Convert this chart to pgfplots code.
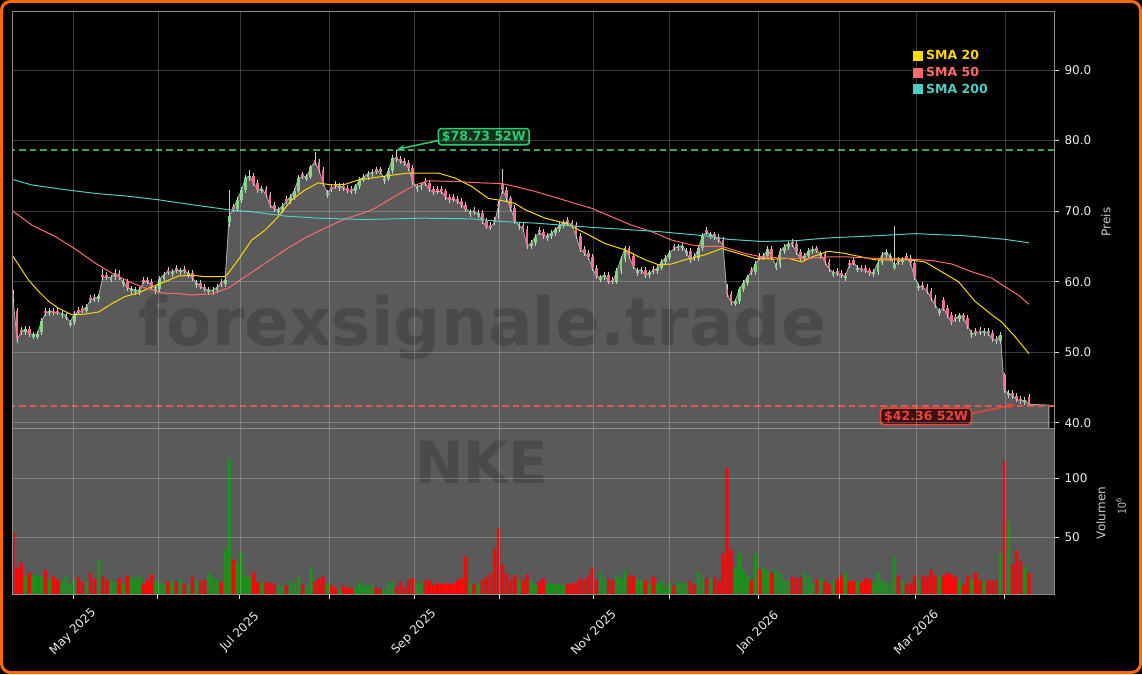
\documentclass[border=0pt]{standalone}
\usepackage{fontspec}
\setmainfont{DejaVu Sans}
\usepackage{pgfplots}
\pgfplotsset{compat=1.18}
\usepackage{pgfplotstable}
\usetikzlibrary{arrows.meta}
\definecolor{bgorange}{HTML}{FF6A00}
\definecolor{fillgray}{HTML}{5A5A5A}
\definecolor{closeline}{HTML}{A8A8A8}
\definecolor{sma20}{HTML}{FFD700}
\definecolor{sma50}{HTML}{FF6B6B}
\definecolor{sma200}{HTML}{4ECDC4}
\definecolor{upc}{HTML}{86D486}
\definecolor{downc}{HTML}{F2708F}
\definecolor{wickc}{HTML}{CFCFCF}
\definecolor{volg}{HTML}{1F8F1F}
\definecolor{volr}{HTML}{F00A0A}
\definecolor{wkhighline}{RGB}{60,160,95}
\definecolor{wklowline}{RGB}{224,85,85}
\definecolor{hitext}{HTML}{2ECC71}
\definecolor{lotext}{HTML}{E8453C}
\definecolor{hibox}{HTML}{10301C}
\definecolor{lobox}{HTML}{3A1010}
\definecolor{spine}{HTML}{8C8C8C}

\pgfplotstableread{
i o h l c v d
0 58.3 58.8 57.0 57.5 55 0
1 55.8 56.2 51.3 51.8 24 0
2 53.1 53.5 52.4 52.8 28.7 0
3 52.8 53.7 52.4 53.3 16.8 1
4 53.3 53.7 52.2 52.6 20.2 0
5 52.2 52.9 51.8 52.5 18.8 1
6 52.2 53.0 51.8 52.6 17.9 1
7 52.8 54.8 52.4 54.4 17.0 1
8 55.8 56.3 55.1 55.5 22.5 0
9 55.5 56.3 55.1 55.9 14.3 1
10 55.9 56.3 55.2 55.6 17.0 0
11 55.9 56.3 55.2 55.6 14.0 0
12 55.2 55.9 54.8 55.5 13.0 1
13 54.9 55.6 54.5 55.2 17.0 1
14 53.9 54.6 53.5 54.2 11.0 1
15 54.3 55.8 53.9 55.4 14.0 1
16 56.0 56.4 55.3 55.7 16.6 0
17 56.2 56.6 55.5 55.9 12.3 0
18 55.9 56.8 55.5 56.4 12.0 1
19 57.7 58.1 57.0 57.4 20.3 0
20 57.8 58.2 57.1 57.5 15.4 0
21 57.5 58.3 57.1 57.9 30.4 1
22 61.0 61.8 60.3 60.7 17.0 0
23 60.9 61.3 60.2 60.6 14.0 0
24 60.3 61.0 59.9 60.6 13.7 1
25 60.6 61.8 60.2 61.2 12.3 1
26 61.2 61.6 60.3 60.7 15.4 0
27 59.7 60.4 59.3 60.0 11.0 1
28 60.0 60.4 58.7 59.1 17.9 0
29 58.7 59.4 58.3 59.0 16.7 1
30 58.5 59.2 58.1 58.8 15.4 1
31 58.5 59.2 58.1 58.8 16.7 1
32 60.3 60.7 59.6 60.0 10.5 0
33 60.3 60.7 59.6 60.0 13.7 0
34 60.0 60.4 59.0 59.4 18.8 0
35 58.7 59.4 58.3 59.0 14.3 1
36 59.0 60.8 58.6 60.4 11.0 1
37 60.4 61.4 60.0 61.0 10.5 1
38 61.7 62.1 61.0 61.4 13.0 0
39 61.1 61.8 60.7 61.4 13.0 1
40 61.9 62.3 61.2 61.6 12.3 0
41 61.3 62.0 60.9 61.6 15.4 1
42 61.8 62.2 61.1 61.5 10.5 0
43 60.9 61.6 60.5 61.2 9.7 1
44 61.2 61.6 60.1 60.5 17.0 0
45 59.5 60.2 59.1 59.8 13.7 1
46 59.8 60.2 58.9 59.3 13.7 0
47 59.3 59.7 58.5 58.9 14.3 0
48 58.5 59.2 58.1 58.8 20.3 1
49 58.5 59.2 58.1 58.8 17.0 1
50 58.8 59.6 58.4 59.2 14.0 1
51 60.0 60.4 59.3 59.7 12.3 0
52 59.7 60.7 59.3 60.3 40.0 1
53 68.5 73.0 67.8 69.3 117 1
54 70.6 71.0 69.9 70.3 31.5 0
55 70.3 72.0 69.9 71.6 28.0 1
56 71.6 73.4 71.2 73.0 37.5 1
57 73.0 75.1 72.6 74.7 17.0 1
58 74.7 75.8 74.3 75.0 16.7 1
59 75.0 75.4 73.6 74.0 20.3 0
60 74.0 74.4 72.6 73.0 12.3 0
61 72.9 73.6 72.5 73.2 11.0 1
62 73.2 73.6 71.9 72.3 12.3 0
63 72.3 72.7 70.5 70.9 11.5 0
64 70.9 71.3 69.9 70.3 11.0 0
65 69.9 70.6 69.5 70.2 9.7 1
66 70.2 71.1 69.8 70.7 9.7 1
67 71.7 72.1 71.0 71.4 9.7 0
68 71.4 72.4 71.0 72.0 12.3 1
69 72.0 73.3 71.6 72.9 11.5 1
70 72.9 75.1 72.5 74.7 16.2 1
71 75.2 75.6 74.5 74.9 10.5 0
72 74.6 75.3 74.2 74.9 8.9 1
73 74.9 76.6 74.5 76.2 24.0 1
74 77.3 78.4 76.6 77.0 13.0 0
75 77.0 77.4 75.4 75.8 15.4 0
76 75.8 76.2 73.6 74.0 17.0 0
77 72.3 73.0 71.9 72.6 11.5 1
78 73.4 73.8 72.7 73.1 9.7 0
79 73.8 74.2 73.1 73.5 6.8 0
80 73.3 74.0 72.9 73.6 5.5 1
81 73.6 74.0 72.9 73.3 8.9 0
82 73.3 73.7 72.5 72.9 6.8 0
83 73.1 73.5 72.4 72.8 6.8 0
84 72.8 73.9 72.4 73.5 6.8 1
85 73.5 74.9 73.1 74.5 13.0 1
86 74.5 75.2 74.1 74.8 8.9 1
87 74.8 75.7 74.4 75.3 9.7 1
88 75.2 75.9 74.8 75.5 9.7 1
89 75.9 76.3 75.2 75.6 7.8 0
90 75.9 76.3 75.2 75.6 6.8 0
91 74.3 75.0 73.9 74.6 5.9 1
92 74.6 76.1 74.2 75.7 11.5 1
93 75.7 77.9 75.3 77.5 12.3 1
94 77.7 78.73 77.0 77.4 8.1 0
95 77.4 77.8 76.7 77.1 12.3 0
96 77.1 77.5 76.4 76.8 8.1 0
97 76.8 77.2 75.7 76.1 14.3 0
98 76.1 76.5 73.7 74.1 15.4 0
99 73.1 73.8 72.7 73.4 11.0 1
100 73.4 74.1 73.0 73.7 11.5 1
101 74.3 74.7 73.6 74.0 13.7 0
102 74.0 74.4 72.7 73.1 13.7 0
103 73.1 73.5 72.3 72.7 9.7 0
104 73.1 73.5 72.4 72.8 11.5 0
105 73.1 73.5 72.4 72.8 10.5 0
106 72.8 73.2 71.6 72.0 11.5 0
107 72.0 72.4 71.2 71.6 10.5 0
108 72.0 72.4 71.3 71.7 11.0 0
109 71.7 72.1 71.0 71.4 13.7 0
110 71.4 71.8 70.5 70.9 15.4 0
111 70.9 71.3 69.9 70.3 33.7 0
112 69.6 70.3 69.2 69.9 12.3 1
113 70.2 70.6 69.5 69.9 10.5 0
114 69.4 70.1 69.0 69.7 11.0 1
115 69.7 70.1 68.2 68.6 13.7 0
116 68.6 69.0 67.4 67.8 16.6 0
117 68.0 68.4 67.3 67.7 18.8 0
118 68.7 69.1 68.0 68.4 40.8 0
119 71.0 71.5 68.9 70.7 57.8 0
120 73.9 75.9 72.4 73.0 26.7 0
121 73.0 73.4 71.4 71.8 18.8 0
122 71.8 72.2 70.0 70.4 14.3 0
123 70.4 70.8 68.2 68.6 17.9 0
124 67.7 68.4 67.3 68.0 13.7 1
125 68.0 68.4 67.1 67.5 13.7 0
126 67.5 67.9 64.6 65.0 18.8 0
127 65.0 65.9 64.6 65.5 13.7 1
128 65.5 66.7 65.1 66.3 9.7 1
129 67.3 67.7 66.6 67.0 12.3 0
130 67.0 67.4 66.1 66.5 15.4 0
131 66.2 66.9 65.8 66.5 10.5 1
132 66.5 67.3 66.1 66.9 10.5 1
133 66.9 67.8 66.5 67.4 10.5 1
134 67.4 68.4 67.0 68.0 9.7 1
135 68.0 68.8 67.6 68.4 9.2 1
136 68.7 69.1 68.0 68.4 10.5 0
137 68.4 68.8 67.6 68.0 11.0 0
138 68.0 68.4 66.1 66.5 11.5 0
139 66.5 66.9 64.2 64.6 15.4 0
140 64.6 65.0 63.7 64.1 14.3 0
141 64.1 64.5 63.1 63.5 17.9 0
142 63.5 63.9 61.5 61.9 24.0 0
143 61.9 62.3 60.4 60.8 14.3 0
144 60.3 61.0 59.9 60.6 21.1 1
145 60.6 61.3 60.2 60.9 16.2 1
146 60.9 61.3 59.6 60.0 15.4 0
147 60.3 60.7 59.6 60.0 14.3 0
148 60.0 61.9 59.6 61.5 17.9 1
149 61.5 63.6 61.1 63.2 15.4 1
150 63.2 65.1 62.8 64.7 22.5 1
151 64.7 65.1 63.2 63.6 17.9 0
152 63.6 64.0 61.8 62.2 17.0 0
153 61.2 61.9 60.8 61.5 14.3 1
154 61.5 62.1 61.1 61.7 13.0 1
155 61.7 62.1 60.5 60.9 13.7 0
156 60.9 61.7 60.5 61.3 10.5 1
157 61.8 62.2 61.1 61.5 16.6 0
158 61.5 62.4 61.1 62.0 10.5 1
159 62.0 63.2 61.6 62.8 13.7 1
160 62.8 63.8 62.4 63.4 5.9 1
161 63.4 64.5 63.0 64.1 11.5 1
162 65.0 65.4 64.3 64.7 9.7 0
163 64.7 65.4 64.3 65.0 12.3 1
164 64.8 65.5 64.4 65.1 11.5 1
165 64.0 64.7 63.6 64.3 11.5 1
166 64.3 64.7 62.6 63.0 13.0 0
167 63.6 64.0 62.9 63.3 10.5 0
168 63.3 65.2 62.9 64.8 21.1 1
169 64.8 66.9 64.4 66.5 16.6 1
170 67.3 67.7 66.6 67.0 15.4 0
171 66.4 67.1 66.0 66.7 15.4 1
172 66.7 67.1 65.9 66.3 16.6 0
173 66.3 66.7 65.5 65.9 13.7 0
174 65.9 66.3 64.8 65.2 36.6 0
175 59.0 59.6 57.8 58.3 108.6 0
176 58.3 58.7 56.7 57.1 39.4 0
177 56.9 57.6 56.5 57.2 24.0 1
178 57.2 59.3 56.8 58.9 36.6 1
179 58.9 60.2 58.5 59.8 22.5 1
180 59.8 61.0 59.4 60.6 17.9 1
181 61.7 62.1 61.0 61.4 13.7 0
182 61.4 62.9 61.0 62.5 36.0 1
183 63.7 64.1 63.0 63.4 22.5 0
184 63.4 64.1 63.0 63.7 24.0 1
185 63.7 65.0 63.3 64.6 21.1 1
186 64.6 65.0 63.1 63.5 19.7 0
187 62.0 62.7 61.6 62.3 22.5 1
188 62.3 64.7 61.9 64.3 19.7 1
189 64.3 65.3 63.9 64.9 14.3 1
190 64.9 65.8 64.5 65.4 14.3 1
191 65.6 66.0 64.9 65.3 16.6 0
192 65.3 65.7 63.8 64.2 15.4 0
193 64.2 64.6 62.9 63.3 16.6 0
194 63.3 64.1 62.9 63.7 20.3 1
195 63.7 64.7 63.3 64.3 17.0 1
196 64.3 65.0 63.9 64.6 11.5 1
197 64.7 65.1 64.0 64.4 14.3 0
198 63.6 64.3 63.2 63.9 15.4 1
199 63.9 64.3 62.4 62.8 13.0 0
200 62.8 63.2 61.4 61.8 11.0 0
201 61.0 61.7 60.6 61.3 13.0 1
202 61.5 61.9 60.8 61.2 14.3 0
203 61.2 61.6 60.5 60.9 17.9 0
204 60.5 61.2 60.1 60.8 21.1 1
205 62.6 63.0 61.9 62.3 13.0 0
206 63.0 63.4 62.3 62.7 13.0 0
207 61.7 62.4 61.3 62.0 13.0 1
208 62.0 62.4 61.3 61.7 12.3 0
209 61.9 62.3 61.2 61.6 15.4 0
210 61.6 62.0 60.8 61.2 14.3 0
211 61.1 61.8 60.7 61.4 12.3 1
212 61.4 63.1 61.0 62.7 21.1 1
213 62.7 64.2 62.3 63.8 14.3 1
214 63.8 64.6 63.4 64.2 11.5 1
215 63.3 64.0 62.9 63.6 11.5 1
216 62.0 67.9 61.6 62.3 33.2 1
217 63.1 63.5 62.4 62.8 17.9 0
218 62.8 63.5 62.4 63.1 14.3 1
219 63.7 64.1 63.0 63.4 10.5 0
220 63.4 63.8 62.2 62.6 11.5 0
221 62.6 63.0 60.2 60.6 17.9 0
222 59.1 59.8 58.7 59.4 15.4 1
223 59.5 59.9 58.8 59.2 17.9 0
224 59.2 59.6 58.3 58.7 16.6 0
225 58.7 59.1 57.3 57.7 22.5 0
226 57.7 58.1 56.3 56.7 17.9 0
227 55.5 56.2 55.1 55.8 16.6 1
228 57.4 57.8 55.9 56.3 17.9 0
229 56.3 56.7 54.9 55.3 20.3 0
230 55.3 55.7 53.9 54.3 18.8 0
231 55.0 55.4 54.3 54.7 16.6 0
232 54.7 55.6 54.3 55.2 13.0 1
233 55.2 55.6 54.4 54.8 9.7 0
234 54.8 55.2 53.3 53.7 17.0 0
235 52.4 53.1 52.0 52.7 14.3 1
236 53.0 53.4 52.3 52.7 19.7 0
237 53.1 53.5 52.4 52.8 14.3 0
238 52.7 53.4 52.3 53.0 13.0 1
239 53.0 53.4 52.3 52.7 13.7 0
240 52.7 53.1 51.5 51.9 13.7 0
241 51.9 52.3 51.2 51.6 14.3 0
242 51.6 52.9 51.2 52.5 36.6 1
243 46.7 47.0 44.2 44.6 115 0
244 43.9 44.6 43.5 44.2 64.2 1
245 44.2 44.6 43.4 43.8 27.5 0
246 43.8 44.2 42.9 43.3 38.8 0
247 43.4 43.8 42.7 43.1 30.0 0
248 42.9 43.6 42.5 43.2 25.0 1
249 43.6 44.0 42.36 42.6 20.3 0
}\pricedata

\begin{document}
\begin{tikzpicture}[x=1pt,y=1pt]
\fill[black] (0,0) rectangle (1142,674);
\draw[bgorange, line width=3pt, rounded corners=9pt] (1.5,1.5) rectangle (1140.5,672.5);

% ---------------- price panel ----------------
\begin{axis}[
  at={(12pt,246pt)}, anchor=south west, scale only axis,
  width=1042pt, height=417pt,
  xmin=-0.245, xmax=255.15, ymin=39.25, ymax=98.37,
  axis on top,
  axis line style={draw=spine, line width=0.8pt},
  xtick={14.7,35.5,55.6,77.5,98.3,119.1,142.2,160.8,182.6,202.5,221.3,243.1},
  xticklabels={},
  x tick style={draw=none},
  ytick={40,50,60,70,80,90},
  ytick pos=right, yticklabel pos=right,
  tick align=outside, major tick length=5pt,
  y tick style={draw=white!85!black, line width=0.8pt},
  grid=major,
  grid style={draw=white, opacity=0.22, line width=0.6pt},
  /pgf/number format/assume math mode=true,
  yticklabel style={font=\fontsize{12}{14}\selectfont, text=white!92!black, xshift=2pt,
    /pgf/number format/.cd, fixed, fixed zerofill, precision=1},
  legend style={at={(0.8647,0.914)}, anchor=north west, draw=none, fill=none,
    inner sep=0pt, row sep=0pt, font=\fontsize{12.5}{14}\selectfont\bfseries,
    nodes={inner xsep=3pt, inner ysep=3.1pt}},
  legend cell align=left,
  legend image code/.code={\fill[#1] (0pt,-4.5pt) rectangle (9pt,4.5pt);},
]
\addplot[draw=none, fill=fillgray, forget plot] table[x=i, y=c] {\pricedata} \closedcycle;
\addplot[draw=none, fill=fillgray, forget plot] coordinates {(249,42.6) (253.9,42.5)} \closedcycle;
\node[font=\fontsize{66}{70}\selectfont\bfseries, text=black, text opacity=0.17] at (rel axis cs:0.451,0.242) {forexsignale.trade};
\addplot[draw=closeline, line width=0.9pt, forget plot] table[x=i, y=c] {\pricedata};
\addplot[draw=closeline, line width=0.9pt, forget plot] coordinates {(249,42.6) (253.9,42.5) (253.9,38.5)};
% wicks
\addplot[draw=none, mark=none, forget plot,
  error bars/.cd, y dir=plus, y explicit, error mark=none,
  error bar style={draw=wickc, line width=0.8pt}]
  table[x=i, y=l, y error plus expr={\thisrow{h}-\thisrow{l}}] {\pricedata};
% up bodies
\addplot[draw=none, mark=none, forget plot,
  restrict expr to domain={\thisrow{d}}{1:1},
  error bars/.cd, y dir=plus, y explicit, error mark=none,
  error bar style={draw=upc, line width=2.8pt}]
  table[x=i, y=o, y error plus expr={\thisrow{c}-\thisrow{o}}] {\pricedata};
% down bodies
\addplot[draw=none, mark=none, forget plot,
  restrict expr to domain={\thisrow{d}}{0:0},
  error bars/.cd, y dir=plus, y explicit, error mark=none,
  error bar style={draw=downc, line width=2.8pt}]
  table[x=i, y=c, y error plus expr={\thisrow{o}-\thisrow{c}}] {\pricedata};
% SMAs
\addplot[color=sma20, line width=1pt] coordinates {
(-0.25,63.8) (3.85,60.2) (6.3,58.6) (8.75,57.2) (11.2,56.2) (14.46,55.3) (17.7,55.4) (21.0,55.7) (24.3,56.9) (27.5,57.9) (30.8,58.4) (34.1,59.3) (37.3,60.0) (40.6,60.8) (43.9,60.9) (47.1,60.7) (52.0,60.7) (52.8,61.2) (55.2,63.1) (58.5,65.9) (61.8,67.3) (65.0,69.2) (68.3,71.6) (71.6,73.0) (74.8,74.0) (78.1,73.7) (81.4,73.8) (84.6,74.4) (90.4,74.9) (96.9,75.4) (104.2,75.4) (108.3,74.7) (112.4,73.5) (116.5,71.8) (119.8,71.5) (123.0,71.1) (125.5,70.2) (130.4,69.0) (135.3,68.3) (140.2,66.9) (145.1,65.4) (150.0,64.5) (154.9,63.1) (158.2,62.4) (161.4,62.5) (164.7,63.1) (169.6,63.8) (173.7,64.7) (177.8,64.0) (181.9,63.3) (186.8,63.2) (190.0,63.3) (193.3,62.8) (195.8,63.5) (199.8,64.3) (203.9,64.0) (208.0,63.5) (211.3,63.1) (219.4,63.1) (223.5,62.8) (227.6,61.4) (231.7,60.0) (235.8,57.2) (239.9,55.3) (242.3,54.3) (245.6,52.2) (249,49.8)};
\addlegendentry{\textcolor{sma20}{SMA 20}}
\addplot[color=sma50, line width=1pt] coordinates {
(-0.25,70.1) (4.66,68.0) (10.37,66.4) (16.1,64.3) (20.2,62.6) (24.3,61.2) (28.4,60.0) (32.4,59.1) (36.5,58.4) (40.6,58.3) (43.9,58.1) (48.7,58.3) (52.8,59.1) (56.9,60.7) (61.8,62.6) (66.7,64.5) (71.6,66.2) (76.5,67.6) (81.4,68.9) (86.3,69.8) (88.7,70.4) (93.6,72.1) (98.5,73.7) (101.8,74.3) (108.3,74.2) (114.9,74.0) (119.8,73.9) (123.0,73.5) (127.9,72.8) (132.0,72.1) (137.7,71.1) (141.8,70.4) (146.7,69.2) (151.6,68.0) (156.5,67.1) (161.4,65.9) (166.3,65.2) (169.6,65.0) (173.7,65.0) (179.4,64.0) (183.5,63.5) (190.0,63.3) (194.9,63.3) (199.8,63.5) (204.7,63.5) (211.3,63.3) (217.0,63.3) (225.2,63.0) (230.1,62.5) (235.0,61.4) (239.9,60.5) (243.1,59.3) (246.4,58.1) (249,56.8)};
\addlegendentry{\textcolor{sma50}{SMA 50}}
\addplot[color=sma200, line width=1pt] coordinates {
(-0.25,74.5) (4.66,73.7) (12.0,73.1) (20.2,72.5) (28.4,72.1) (35.7,71.6) (43.9,70.9) (52.8,70.2) (58.5,69.9) (66.7,69.3) (74.8,69.0) (86.3,68.8) (100.2,69.0) (112.4,68.9) (120.6,68.5) (127.9,68.3) (141.8,67.7) (158.2,67.1) (169.6,66.5) (175.3,66.0) (183.5,65.7) (191.7,65.8) (199.8,66.2) (211.3,66.5) (221.1,66.8) (233.3,66.5) (243.1,66.0) (249,65.5)};
\addlegendentry{\textcolor{sma200}{SMA 200}}
% 52W lines
\addplot[draw=wkhighline, line width=2pt, dash pattern=on 6.5pt off 4pt, forget plot] coordinates {(-1,78.73) (256,78.73)};
\addplot[draw=wklowline, line width=1.8pt, dash pattern=on 6.5pt off 4pt, forget plot] coordinates {(-1,42.36) (256,42.36)};
\node[draw=hitext, line width=1.5pt, rounded corners=3pt, fill=hibox, text=hitext,
  font=\fontsize{12.5}{14}\selectfont\bfseries, inner xsep=3.5pt, inner ysep=2.5pt]
  (hb) at (axis cs:115.4,80.55) {\$78.73 52W};
\draw[hitext, line width=1.5pt, -{Stealth[length=8pt,width=6pt]}] ([yshift=-4pt]hb.west) -- (axis cs:94.1,78.75);
\node[draw=lotext, line width=1.5pt, rounded corners=3pt, fill=lobox, text=lotext,
  font=\fontsize{12.5}{14}\selectfont\bfseries, inner xsep=3.5pt, inner ysep=2.5pt]
  (lb) at (axis cs:223.8,40.9) {\$42.36 52W};
\draw[lotext, line width=1.5pt, -{Stealth[length=8pt,width=6pt]}] ([yshift=3pt]lb.east) -- (axis cs:245.6,42.55);
\end{axis}

% ---------------- volume panel ----------------
\begin{axis}[
  at={(12pt,80pt)}, anchor=south west, scale only axis,
  width=1042pt, height=166pt,
  xmin=-0.245, xmax=255.15, ymin=2.1, ymax=142.8,
  axis background/.style={fill=fillgray},
  axis on top,
  axis line style={draw=spine, line width=0.8pt},
  xtick={14.7,55.6,98.3,142.2,182.6,221.3},
  xticklabels={May 2025,Jul 2025,Sep 2025,Nov 2025,Jan 2026,Mar 2026},
  extra x ticks={35.5,77.5,119.1,160.8,202.5,243.1},
  extra x tick labels={},
  xtick pos=bottom,
  ytick={50,100}, ytick pos=right, yticklabel pos=right,
  scaled y ticks=false,
  tick align=outside, major tick length=5pt,
  tick style={draw=white!85!black, line width=0.8pt},
  grid=major,
  grid style={draw=white, opacity=0.22, line width=0.6pt},
  extra x tick style={grid=major},
  /pgf/number format/assume math mode=true,
  yticklabel style={font=\fontsize{12}{14}\selectfont, text=white!92!black, xshift=2pt},
  xticklabel style={font=\fontsize{12}{14}\selectfont, text=white!92!black, anchor=center, yshift=-33pt, rotate=45},
]
\node[font=\fontsize{58}{62}\selectfont\bfseries, text=black, text opacity=0.17] at (rel axis cs:0.451,0.795) {NKE};
\addplot[ybar, bar shift=0pt, bar width=0.82, fill=volg, draw=none,
  restrict expr to domain={\thisrow{d}}{1:1}] table[x=i, y=v] {\pricedata};
\addplot[ybar, bar shift=0pt, bar width=0.82, fill=volr, draw=none,
  restrict expr to domain={\thisrow{d}}{0:0}] table[x=i, y=v] {\pricedata};
\end{axis}

\node[rotate=90, font=\fontsize{12}{14}\selectfont, text=white!80!black] at (1106,452) {Preis};
\node[rotate=90, font=\fontsize{12}{14}\selectfont, text=white!80!black] at (1101,161) {Volumen};
\node[rotate=90, font=\fontsize{12}{14}\selectfont, text=white!80!black] at (1121,168) {$\mathsf{10^{6}}$};

\pgfresetboundingbox
\useasboundingbox (0,0) rectangle (1142,674);
\end{tikzpicture}
\end{document}
